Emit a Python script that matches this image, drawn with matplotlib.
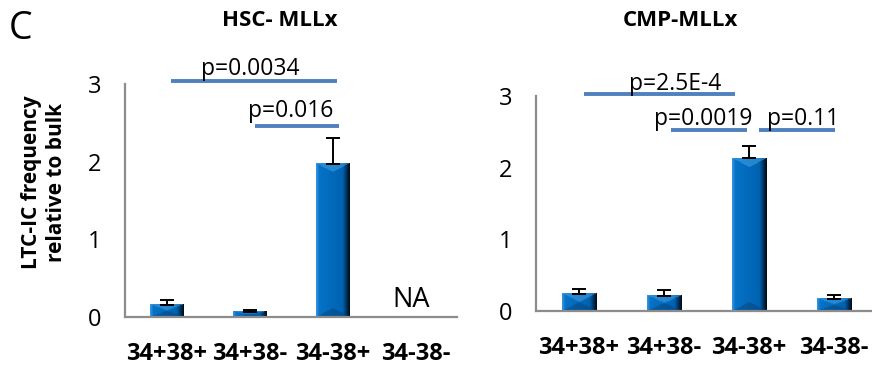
import numpy as np
import matplotlib
matplotlib.use("Agg")
import matplotlib.pyplot as plt

plt.rcParams['font.family'] = ['Open Sans', 'DejaVu Sans']

# data
categories = ["34+38+", "34+38-", "34-38+", "34-38-"]
hsc_values = [0.155, 0.065, 1.97, np.nan]
hsc_errors = [0.065, 0.025, 0.33, np.nan]
cmp_values = [0.24, 0.21, 2.13, 0.17]
cmp_errors = [0.07, 0.08, 0.17, 0.05]

# comparison brackets: (x from, x to, line height)
hsc_lines = [(0.05, 2.05, 3.04), (1.07, 2.08, 2.46)]
cmp_lines = [(0.06, 1.84, 3.03), (1.09, 1.98, 2.52), (2.12, 3.01, 2.52)]
# p-value labels: (x centre, baseline height, text)
hsc_labels = [(1.01, 3.11, "p=0.0034"), (1.50, 2.57, "p=0.016")]
cmp_labels = [(1.13, 3.08, "p=2.5E-4"), (1.47, 2.59, "p=0.0019"),
              (2.64, 2.59, "p=0.11")]

BAR_W = 0.4
LINE_BLUE = "#4f81bd"


def hex_rgb(h):
    h = h.lstrip("#")
    return np.array([int(h[i:i + 2], 16) for i in (0, 2, 4)]) / 255.0


def bevel_image(w, h):
    """RGB array for a bevelled bar face of w x h pixels."""
    w = max(int(round(w)), 2)
    h = max(int(round(h)), 2)
    xs = (np.arange(w) + 0.5) / w
    light, face, face2 = hex_rgb("#3a98e2"), hex_rgb("#0672c6"), hex_rgb("#0063b2")
    dark, black = hex_rgb("#00325e"), hex_rgb("#000a14")
    prof = np.empty((w, 3))
    for k, u in enumerate(xs):
        if u < 0.1:
            t = u / 0.1
            prof[k] = light * (1 - t) + face * t
        elif u < 0.78:
            t = (u - 0.1) / 0.68
            prof[k] = face * (1 - t) + face2 * t
        else:
            t = (u - 0.78) / 0.22
            prof[k] = face2 * (1 - t) ** 1.5 + (dark * (1 - t) + black * t) * (1 - (1 - t) ** 1.5)
    img = np.repeat(prof[None, :, :], h, axis=0)
    d = min(9.0, h / 2.0)
    xx = np.arange(w) + 0.5
    tri = d * (1 - np.abs(xx - w / 2) / (w / 2))
    for r in range(h):
        yt = r + 0.5
        yb = h - r - 0.5
        top = yt < tri
        bot = yb < tri
        img[r, top] = img[r, top] * 0.5 + hex_rgb("#4aa6ea") * 0.5
        img[r, bot] = img[r, bot] * 0.55 + hex_rgb("#0a3d70") * 0.45
    return img


def draw_bars(ax, values, errors):
    for i, (v, e) in enumerate(zip(values, errors)):
        if np.isnan(v):
            continue
        x0 = i - BAR_W / 2
        p0 = ax.transData.transform((x0, 0))
        p1 = ax.transData.transform((x0 + BAR_W, v))
        img = bevel_image(p1[0] - p0[0], p1[1] - p0[1])
        ax.bar(i, v, width=BAR_W, color="#0070c0", zorder=2)
        ax.imshow(img, aspect="auto", extent=(x0, x0 + BAR_W, 0, v),
                  zorder=2.1, interpolation="bilinear")
        ax.errorbar(i, v, yerr=[[0], [e]], fmt="none", ecolor="black",
                    elinewidth=1.4, capsize=5, capthick=1.4, zorder=3)


def style_axes(ax, xlim):
    ax.set_xlim(*xlim)
    ax.set_ylim(0, 3)
    ax.set_yticks([0, 1, 2, 3])
    ax.set_xticks(range(len(categories)))
    ax.set_xticklabels(categories, fontsize=17, fontweight="bold")
    ax.tick_params(axis="both", length=0)
    ax.tick_params(axis="y", labelsize=17, pad=17)
    ax.tick_params(axis="x", pad=18)
    for s in ("top", "right"):
        ax.spines[s].set_visible(False)
    for s in ("left", "bottom"):
        ax.spines[s].set_color("#8c8c8c")
        ax.spines[s].set_linewidth(1.6)
    ax.set_facecolor("none")


def draw_pvals(ax, lines, labels):
    for x0, x1, y in lines:
        ax.plot([x0, x1], [y, y], color=LINE_BLUE, lw=2.8, clip_on=False,
                solid_capstyle="butt", zorder=4)
    for xc, yb, lab in labels:
        ax.text(xc, yb, lab, ha="center", va="baseline", fontsize=16.5,
                clip_on=False, zorder=5)


fig = plt.figure(figsize=(8.72, 3.75), dpi=100)

ax1 = fig.add_axes([125 / 872, 1 - 317 / 375, 332 / 872, (317 - 84) / 375])
style_axes(ax1, (-0.5, 3.5))
draw_bars(ax1, hsc_values, hsc_errors)
ax1.set_xlim(-0.5, 3.5)
ax1.set_ylim(0, 3)
draw_pvals(ax1, hsc_lines, hsc_labels)
ax1.text(2.95, 0.13, "NA", ha="center", va="baseline", fontsize=19.5)

ax2 = fig.add_axes([536 / 872, 1 - 311 / 375, 336 / 872, (311 - 96) / 375])
style_axes(ax2, (-0.5, 3.45))
draw_bars(ax2, cmp_values, cmp_errors)
ax2.set_xlim(-0.5, 3.45)
ax2.set_ylim(0, 3)
draw_pvals(ax2, cmp_lines, cmp_labels)

fig.text(280 / 872, 1 - 20 / 375, "HSC- MLLx", ha="center", va="center",
         fontsize=16, fontweight="bold")
fig.text(680 / 872, 1 - 20 / 375, "CMP-MLLx", ha="center", va="center",
         fontsize=16, fontweight="bold")
fig.text(44 / 872, 1 - 182 / 375, "LTC-IC frequency\nrelative to bulk",
         rotation=90, ha="center", va="center", fontsize=15,
         fontweight="bold", linespacing=1.2)
fig.text(9 / 872, 1 - 29 / 375, "C", ha="left", va="center", fontsize=27)

fig.savefig("out.png", dpi=100)
